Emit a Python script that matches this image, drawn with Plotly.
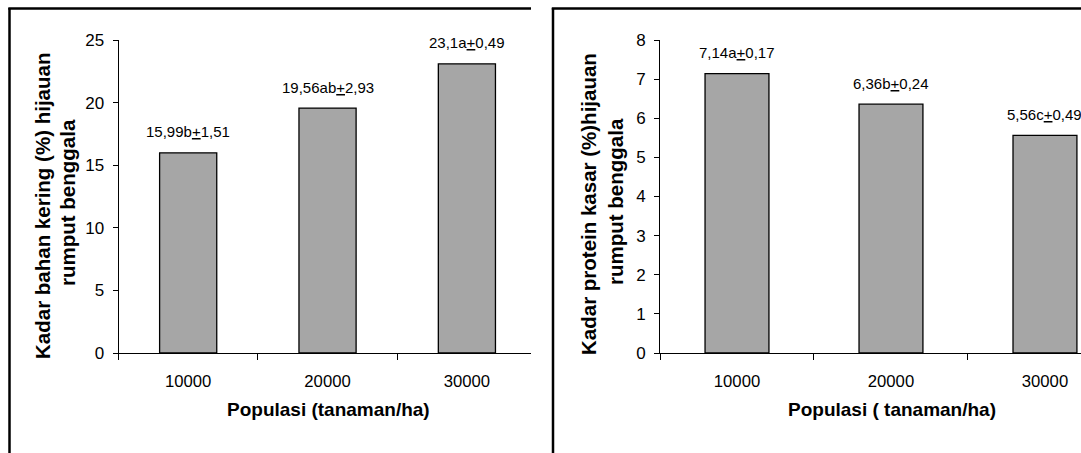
import plotly.graph_objects as go

# ---- data ----
categories = ["10000", "20000", "30000"]
bahan_kering = [15.99, 19.56, 23.10]
bahan_kering_labels = ["15,99b<u>+</u>1,51", "19,56ab<u>+</u>2,93", "23,1a<u>+</u>0,49"]
protein_kasar = [7.14, 6.36, 5.56]
protein_kasar_labels = ["7,14a<u>+</u>0,17", "6,36b<u>+</u>0,24", "5,56c<u>+</u>0,49"]

left_ytitle = ["Kadar bahan kering (%) hijauan", "rumput benggala"]
right_ytitle = ["Kadar protein kasar (%)hijauan", "rumput benggala"]
left_xtitle = "Populasi (tanaman/ha)"
right_xtitle = "Populasi ( tanaman/ha)"

W, H = 1081, 453
FONT = "Liberation Sans, Arial, sans-serif"
BAR_FILL = "rgb(166,166,166)"

def px(x):
    return x / W

def py(y):
    return 1 - y / H

fig = go.Figure()
fig.add_trace(go.Bar(x=categories, y=bahan_kering, xaxis="x", yaxis="y",
                     marker=dict(color=BAR_FILL, line=dict(color="black", width=1.3)),
                     width=0.41, hoverinfo="skip"))
fig.add_trace(go.Bar(x=categories, y=protein_kasar, xaxis="x2", yaxis="y2",
                     marker=dict(color=BAR_FILL, line=dict(color="black", width=1.3)),
                     width=0.415, hoverinfo="skip"))

ydom = [py(353), py(40)]
common_x = dict(type="category", showline=True, linecolor="black", linewidth=1,
                ticks="outside", tickson="boundaries", ticklen=6, tickcolor="black",
                tickwidth=1, showgrid=False, ticklabelstandoff=13, automargin=False,
                tickfont=dict(family=FONT, size=16.7, color="black"))
common_y = dict(showline=True, linecolor="black", linewidth=1, ticks="outside",
                ticklen=5, tickcolor="black", tickwidth=1, showgrid=False,
                zeroline=False, ticklabelstandoff=5, automargin=False,
                tickfont=dict(family=FONT, size=17, color="black"))

fig.update_layout(
    width=W, height=H, autosize=False,
    margin=dict(l=0, r=0, t=0, b=0, pad=0, autoexpand=False),
    paper_bgcolor="white", plot_bgcolor="white", showlegend=False,
    xaxis=dict(domain=[px(118.5), px(531)], range=[-0.5, 2.46], anchor="y", **common_x),
    yaxis=dict(domain=ydom, range=[0, 25], dtick=5, anchor="x", **common_y),
    xaxis2=dict(domain=[px(660), 1.0], range=[-0.5, 2.234], anchor="y2", **common_x),
    yaxis2=dict(domain=ydom, range=[0, 8], dtick=1, anchor="x2", **common_y),
)

ann = []
lfont = dict(family=FONT, size=15, color="black")
for i, (v, t) in enumerate(zip(bahan_kering, bahan_kering_labels)):
    ann.append(dict(x=i, y=v, xref="x", yref="y", text=t, showarrow=False,
                    xanchor="center", yanchor="middle", yshift=21, font=lfont))
for i, (v, t) in enumerate(zip(protein_kasar, protein_kasar_labels)):
    ann.append(dict(x=i, y=v, xref="x2", yref="y2", text=t, showarrow=False,
                    xanchor="center", yanchor="middle", yshift=21, font=lfont))

tfont = dict(family=FONT, size=20.5, color="black")
xfont = dict(family=FONT, size=19, color="black")
def title_ann(x, y, text, angle, font):
    return dict(x=px(x), y=py(y), xref="paper", yref="paper", text="<b>%s</b>" % text,
                textangle=angle, showarrow=False, xanchor="center", yanchor="middle",
                font=font)

ann += [
    title_ann(42, 206, left_ytitle[0], -90, tfont),
    title_ann(67, 203, left_ytitle[1], -90, tfont),
    title_ann(588, 204, right_ytitle[0], -90, tfont),
    title_ann(615, 202, right_ytitle[1], -90, tfont),
    title_ann(328, 409, left_xtitle, 0, xfont),
    title_ann(892, 409, right_xtitle, 0, xfont),
]
fig.update_layout(annotations=ann)

# panel frames (cropped chart borders)
bw = 2.5
shapes = [
    dict(type="line", xref="paper", yref="paper", x0=px(9.5), x1=px(9.5), y0=py(8), y1=0,
         line=dict(color="black", width=bw)),
    dict(type="line", xref="paper", yref="paper", x0=px(8.3), x1=px(531), y0=py(8.5), y1=py(8.5),
         line=dict(color="black", width=bw)),
    dict(type="line", xref="paper", yref="paper", x0=px(553), x1=px(553), y0=py(8), y1=0,
         line=dict(color="black", width=bw)),
    dict(type="line", xref="paper", yref="paper", x0=px(551.8), x1=1.0, y0=py(8.5), y1=py(8.5),
         line=dict(color="black", width=bw)),
]
fig.update_layout(shapes=shapes)

fig.write_html("out.html", config={"displayModeBar": False, "responsive": False},
               post_script="document.body.style.margin='0';document.body.style.overflow='hidden';")
